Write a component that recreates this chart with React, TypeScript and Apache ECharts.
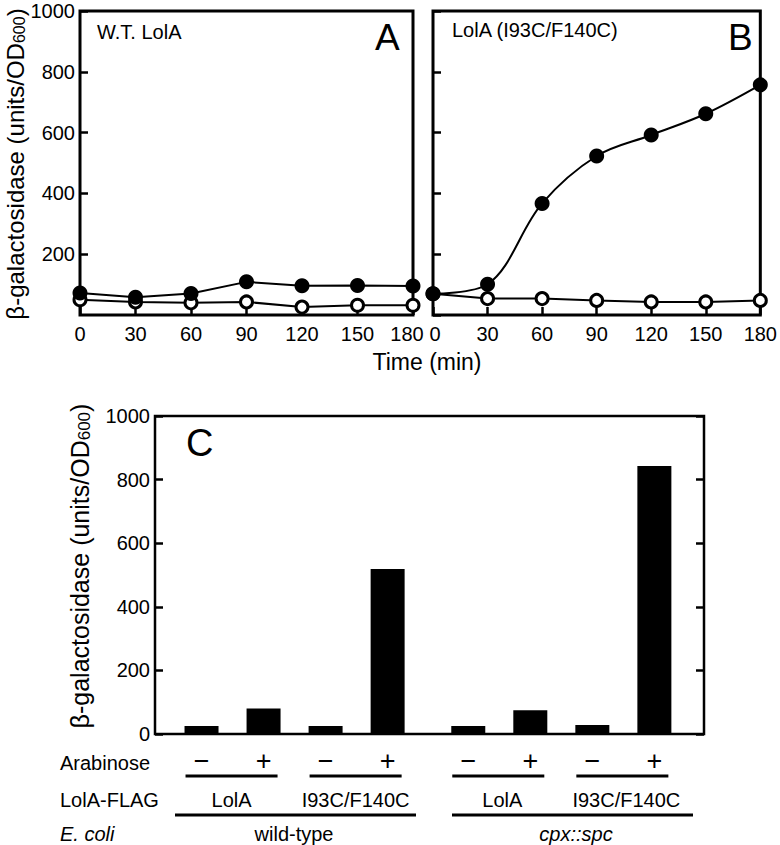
import React, { useEffect, useRef } from "react";
import * as echarts from "echarts";

const FONT = '"Liberation Sans", Arial, Helvetica, sans-serif';

// Panels A & B: time course
const timePoints = [0, 30, 60, 90, 120, 150, 180];
const wtFilled = [72, 58, 71, 109, 96, 97, 95];
const wtOpen = [50, 43, 40, 43, 26, 32, 32];
const mutFilled = [70, 101, 367, 523, 592, 662, 757];
const mutOpen = [70, 54, 54, 48, 43, 43, 48];
const yTicks = [0, 200, 400, 600, 800, 1000];

// Panel C: bars
const barValues = [25, 80, 25, 519, 25, 75, 28, 843];
const arabinose = ["\u2212", "+", "\u2212", "+", "\u2212", "+", "\u2212", "+"];
const lolaFlag = ["LolA", "I93C/F140C", "LolA", "I93C/F140C"];
const strains = ["wild-type", "cpx::spc"];

// layout helpers (not data)
const barPositions = barValues.map((_, i) => 0.75 + i + (i >= 4 ? 0.3 : 0));

const makeRich = (fs: number) => ({
  n: { fontSize: fs, fontFamily: FONT, fill: "#000" },
  s: { fontSize: Math.round(fs * 0.68), fontFamily: FONT, fill: "#000", verticalAlign: "bottom", padding: [5, 0, 0, 0] },
});

export default function App() {
  const ref = useRef<HTMLDivElement>(null);
  useEffect(() => {
    const chart = echarts.init(ref.current!, null, { renderer: "svg" });
    const tickStyle = { inside: true, length: 8, lineStyle: { color: "#000", width: 2.5 } };
    const labelStyle = { color: "#000", fontSize: 20, fontFamily: FONT };
    const gridBase = { show: true, borderColor: "#000", backgroundColor: "transparent", containLabel: false };
    const timeAxis = (gi: number) => ({
      type: "value",
      gridIndex: gi,
      min: 0,
      max: 180,
      interval: 30,
      axisLine: { show: false },
      axisTick: tickStyle,
      axisLabel: {
        ...labelStyle,
        margin: 9,
        formatter: (v: number) => (gi === 0 && v === 180 ? "{r|180}" : gi === 1 && v === 0 ? "{l|0}" : String(v)),
        rich: {
          r: { ...labelStyle, padding: [0, 12, 0, 0] },
          l: { ...labelStyle, padding: [0, 0, 0, 4] },
        },
      },
      splitLine: { show: false },
    });
    const valAxis = (gi: number, showLabel: boolean, showMin: boolean, position = "left") => ({
      type: "value",
      gridIndex: gi,
      min: yTicks[0],
      max: yTicks[yTicks.length - 1],
      interval: 200,
      position,
      axisLine: { show: false },
      axisTick: tickStyle,
      axisLabel: {
        ...labelStyle,
        show: showLabel,
        showMinLabel: showMin,
        margin: 5,
        formatter: (v: number) => String(v),
      },
      splitLine: { show: false },
    });
    const openStyle = {
      symbol: "circle",
      symbolSize: 12,
      itemStyle: { color: "#fff", borderColor: "#000", borderWidth: 3 },
      lineStyle: { color: "#000", width: 2 },
      clip: false,
      z: 3,
    };
    const filledStyle = {
      symbol: "circle",
      symbolSize: 15,
      itemStyle: { color: "#000" },
      lineStyle: { color: "#000", width: 2 },
      clip: false,
      z: 4,
    };
    const option: any = {
      animation: false,
      backgroundColor: "#fff",
      grid: [
        { ...gridBase, left: 80, top: 11, width: 333, height: 304, borderWidth: 3 },
        { ...gridBase, left: 433, top: 11, width: 334, height: 304, borderWidth: 3 },
        { ...gridBase, left: 155, top: 416, width: 549, height: 318, borderWidth: 2.5 },
      ],
      xAxis: [
        timeAxis(0),
        timeAxis(1),
        { type: "value", gridIndex: 2, min: 0, max: 8.85, show: false, splitLine: { show: false } },
      ],
      yAxis: [
        valAxis(0, true, false),
        valAxis(1, false, false),
        valAxis(2, true, true),
        valAxis(2, false, false, "right"),
      ],
      series: [
        { type: "line", xAxisIndex: 0, yAxisIndex: 0, data: timePoints.map((t, i) => [t, wtOpen[i]]), ...openStyle },
        { type: "line", xAxisIndex: 0, yAxisIndex: 0, data: timePoints.map((t, i) => [t, wtFilled[i]]), ...filledStyle },
        { type: "line", xAxisIndex: 1, yAxisIndex: 1, data: timePoints.map((t, i) => [t, mutOpen[i]]), ...openStyle },
        {
          type: "line",
          xAxisIndex: 1,
          yAxisIndex: 1,
          smooth: 0.35,
          data: timePoints.map((t, i) => [t, mutFilled[i]]),
          ...filledStyle,
        },
        {
          type: "bar",
          xAxisIndex: 2,
          yAxisIndex: 2,
          barWidth: 34,
          itemStyle: { color: "#000" },
          data: barPositions.map((p, i) => [p, barValues[i]]),
        },
      ],
    };
    chart.setOption(option);

    const px = barPositions.map((p) => (chart.convertToPixel({ gridIndex: 2 } as any, [p, 0]) as number[])[0]);
    const txt = (text: string, x: number, y: number, fontSize: number, align = "left", italic = false) => ({
      type: "text",
      x,
      y,
      z: 10,
      style: {
        text,
        fontSize,
        fontFamily: FONT,
        fontStyle: italic ? "italic" : "normal",
        fill: "#000",
        align,
        verticalAlign: "middle",
      },
    });
    const hline = (x1: number, x2: number, y: number) => ({
      type: "line",
      z: 10,
      shape: { x1, y1: y, x2, y2: y },
      style: { stroke: "#000", lineWidth: 3 },
    });
    const yTitle = (x: number, y: number, fs: number) => ({
      type: "text",
      x,
      y,
      rotation: Math.PI / 2,
      z: 10,
      style: {
        text: "{n|\u03b2-galactosidase (units/OD}{s|600}{n|)}",
        rich: makeRich(fs),
        align: "center",
        verticalAlign: "middle",
      },
    });
    const graphics: any[] = [
      txt("W.T. LolA", 97, 32, 20),
      txt("A", 375, 37, 37),
      txt("LolA (I93C/F140C)", 452, 30, 20),
      txt("B", 728, 37, 37),
      txt("C", 186, 443, 38),
      txt("Time (min)", 427, 362, 23, "center"),
      yTitle(15, 164, 24),
      yTitle(80, 566, 25),
      txt("Arabinose", 60, 763, 20),
      txt("LolA-FLAG", 60, 800, 20),
      txt("E. coli", 60, 834, 20, "left", true),
    ];
    arabinose.forEach((s, i) => graphics.push(txt(s, px[i], 761, 27, "center")));
    for (let k = 0; k < 4; k++) {
      const a = px[2 * k] - 16;
      const b = px[2 * k + 1] + 14;
      graphics.push(hline(a, b, 776));
      graphics.push(txt(lolaFlag[k], (a + b) / 2 + (k >= 2 ? 4 : 0), 800, 20, "center"));
    }
    const longLines = [
      [175, 416],
      [452, 693],
    ];
    longLines.forEach(([a, b], g) => {
      graphics.push(hline(a, b, 815));
      graphics.push(txt(strains[g], g === 0 ? 294 : 576, 834, 20, "center", g === 1));
    });
    chart.setOption({ graphic: graphics });
    return () => chart.dispose();
  }, []);
  return (
    <div
      ref={ref}
      style={{ position: "fixed", left: 0, top: 0, width: 780, height: 845, background: "#fff" }}
    />
  );
}
